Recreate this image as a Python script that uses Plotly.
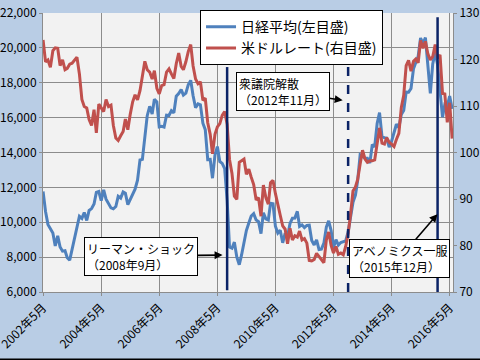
import pandas as pd
import plotly.graph_objects as go

months = pd.date_range("2002-05-01", periods=170, freq="MS")

nikkei = [
    11764, 10622, 9878, 9619, 9383, 8640, 9216, 8579,
    8340, 8363, 7973, 7831, 8425, 9083, 9563, 10344, 10219, 10560, 10101, 10677,
    10784, 11042, 11715, 11762, 11236, 11859, 11326, 11082, 10824, 10771, 10899, 11489,
    11388, 11741, 11669, 11009, 11277, 11584, 11900, 12414, 13574, 13607, 14872, 16111,
    16650, 16206, 17060, 16906, 15467, 15505, 15457, 16141, 16128, 16399, 16274, 17226,
    17383, 17604, 17288, 17400, 17876, 18138, 17249, 16569, 16786, 16738, 15681, 15308,
    13592, 13603, 12526, 13850, 14339, 13481, 13377, 13073, 11260, 8577, 8512, 8860,
    7994, 7568, 8110, 8828, 9523, 9958, 10357, 10493, 10133, 10035, 9346, 10546,
    10198, 10126, 11090, 11057, 9769, 9383, 9537, 8824, 9369, 9202, 9937, 10229,
    10238, 10624, 9755, 9850, 9694, 9816, 9833, 8955, 8700, 8988, 8435, 8455,
    8803, 9723, 10084, 9521, 8543, 9007, 8695, 8840, 8870, 8928, 9446, 10395,
    11139, 11559, 12398, 13861, 13775, 13677, 13668, 13389, 14456, 14328, 15662, 16291,
    14915, 14841, 14828, 14304, 14632, 15162, 15621, 15425, 16174, 16414, 17460, 17451,
    17674, 18798, 19207, 19520, 20563, 20236, 20585, 18890, 17388, 19083, 19747, 19034,
    17518, 16027, 16759, 16666, 17235, 16500,
]

usdjpy = [
    124.2, 119.5, 119.9, 118.3, 121.9, 122.5, 122.4, 118.7,
    119.9, 117.8, 118.1, 119.0, 119.2, 119.8, 120.5, 116.9, 111.4, 109.9, 109.6, 107.1,
    105.8, 109.2, 104.2, 110.4, 109.5, 108.8, 111.4, 109.9, 110.2, 105.8, 103.1, 102.6,
    103.6, 104.5, 107.2, 104.9, 108.2, 110.9, 112.4, 111.3, 113.3, 116.5, 119.6, 117.8,
    117.3, 115.8, 117.6, 113.8, 112.6, 114.4, 114.6, 117.3, 118.0, 116.9, 115.9, 119.1,
    121.4, 118.5, 117.8, 119.5, 121.7, 123.2, 118.6, 115.8, 114.8, 115.2, 111.2, 111.7,
    106.4, 103.9, 99.7, 103.9, 105.5, 106.2, 108.0, 108.8, 106.1, 98.5, 95.5, 90.6,
    89.9, 97.9, 98.3, 98.6, 95.3, 96.4, 94.7, 93.1, 89.8, 90.3, 86.3, 93.0,
    90.3, 88.9, 93.5, 94.0, 91.2, 88.4, 86.5, 84.2, 83.5, 80.4, 83.7, 81.2,
    82.1, 81.8, 83.1, 81.2, 81.5, 80.5, 76.8, 76.7, 77.0, 78.3, 77.6, 76.9,
    76.3, 81.2, 82.9, 80.0, 78.4, 79.8, 78.1, 78.4, 78.0, 79.8, 82.5, 86.6,
    91.7, 92.6, 94.2, 97.5, 100.5, 98.6, 97.9, 98.2, 98.2, 98.4, 102.4, 105.3,
    102.0, 101.8, 103.2, 102.2, 101.8, 101.3, 102.8, 104.1, 109.7, 112.3, 118.7, 119.8,
    117.5, 119.6, 120.1, 119.3, 124.1, 122.4, 123.9, 121.2, 119.9, 120.6, 123.2, 120.3,
    121.0, 112.7, 112.6, 106.5, 110.7, 103.0,
]

tick_dates = ["2002-05-01", "2004-05-01", "2006-05-01", "2008-05-01",
              "2010-05-01", "2012-05-01", "2014-05-01", "2016-05-01"]
tick_labels = ["2002年5月", "2004年5月", "2006年5月", "2008年5月",
               "2010年5月", "2012年5月", "2014年5月", "2016年5月"]

event_dates = ["2008-09-01", "2012-11-01", "2015-12-01"]

FONT = "Noto Sans CJK JP"
NAVY = "#0b2366"
GRID = "#8c8c8c"

fig = go.Figure()
fig.add_trace(go.Scatter(x=months, y=nikkei, name="日経平均(左目盛)", mode="lines",
                         line=dict(color="#4f81bd", width=3), yaxis="y"))
fig.add_trace(go.Scatter(x=months, y=usdjpy, name="米ドルレート(右目盛)", mode="lines",
                         line=dict(color="#c0504d", width=3), yaxis="y2"))

# event lines
fig.add_shape(type="line", xref="x", yref="y", x0=event_dates[0], x1=event_dates[0],
              y0=6100, y1=18900, line=dict(color=NAVY, width=2.5))
fig.add_shape(type="line", xref="x", yref="y", x0=event_dates[1], x1=event_dates[1],
              y0=6000, y1=18900, line=dict(color=NAVY, width=2.5, dash="dash"))
fig.add_shape(type="line", xref="x", yref="y", x0=event_dates[2], x1=event_dates[2],
              y0=5850, y1=21750, line=dict(color=NAVY, width=2.5))

# bottom frame line
fig.add_shape(type="line", xref="paper", yref="paper", x0=-0.2, x1=1.2,
              y0=-0.2415, y1=-0.2415, line=dict(color="black", width=2))

ann_style = dict(xref="paper", yref="paper", showarrow=True, arrowhead=2,
                 arrowsize=1, arrowwidth=1.6, arrowcolor="black",
                 bgcolor="white", bordercolor="black", borderwidth=1, borderpad=2,
                 align="left", font=dict(family=FONT, size=12, color="black"))

fig.add_annotation(text="リーマン・ショック<br>（2008年9月）", x=0.438, y=0.1324,
                   ax=-82, ay=1, **ann_style)
fig.add_annotation(text="衆議院解散<br>（2012年11月）", x=0.731, y=0.687,
                   ax=-60, ay=-9, **ann_style)
fig.add_annotation(text="アベノミクス一服<br>（2015年12月）", x=0.962, y=0.279,
                   ax=-38, ay=44, **ann_style)

fig.update_layout(
    width=480, height=360,
    margin=dict(l=43, r=27, t=13, b=68, autoexpand=False),
    paper_bgcolor="#b9cde5",
    plot_bgcolor="#f2f2f2",
    font=dict(family=FONT, size=13, color="black"),
    showlegend=True,
    legend=dict(x=0.383, y=1.01, xanchor="left", yanchor="top",
                bgcolor="white", bordercolor="black", borderwidth=1,
                font=dict(family=FONT, size=14, color="black"),
                tracegroupgap=0, itemwidth=30),
    xaxis=dict(type="date", range=["2002-04-30", "2016-06-12"], automargin=False,
               tickvals=tick_dates, ticktext=tick_labels, tickangle=-45,
               ticklabeloverflow="allow",
               showgrid=True, gridcolor=GRID, gridwidth=1,
               showline=True, linecolor=GRID, linewidth=1,
               ticks="outside", ticklen=3, tickcolor=GRID,
               tickfont=dict(family=FONT, size=12, color="black")),
    yaxis=dict(range=[6000, 22000], dtick=2000, tickformat=",", automargin=False,
               showgrid=True, gridcolor=GRID, gridwidth=1,
               showline=True, linecolor=GRID, linewidth=1,
               ticks="outside", ticklen=3, tickcolor=GRID, zeroline=False,
               tickfont=dict(family=FONT, size=12, color="black")),
    yaxis2=dict(range=[70, 130], dtick=10, overlaying="y", side="right", automargin=False,
                showgrid=False, showline=True, linecolor=GRID, linewidth=1,
                ticks="outside", ticklen=3, tickcolor=GRID, zeroline=False,
                tickfont=dict(family=FONT, size=12, color="black")),
)

fig.write_html("out.html", config={"displayModeBar": False},
               post_script="document.body.style.margin='0';document.body.style.overflow='hidden';")
